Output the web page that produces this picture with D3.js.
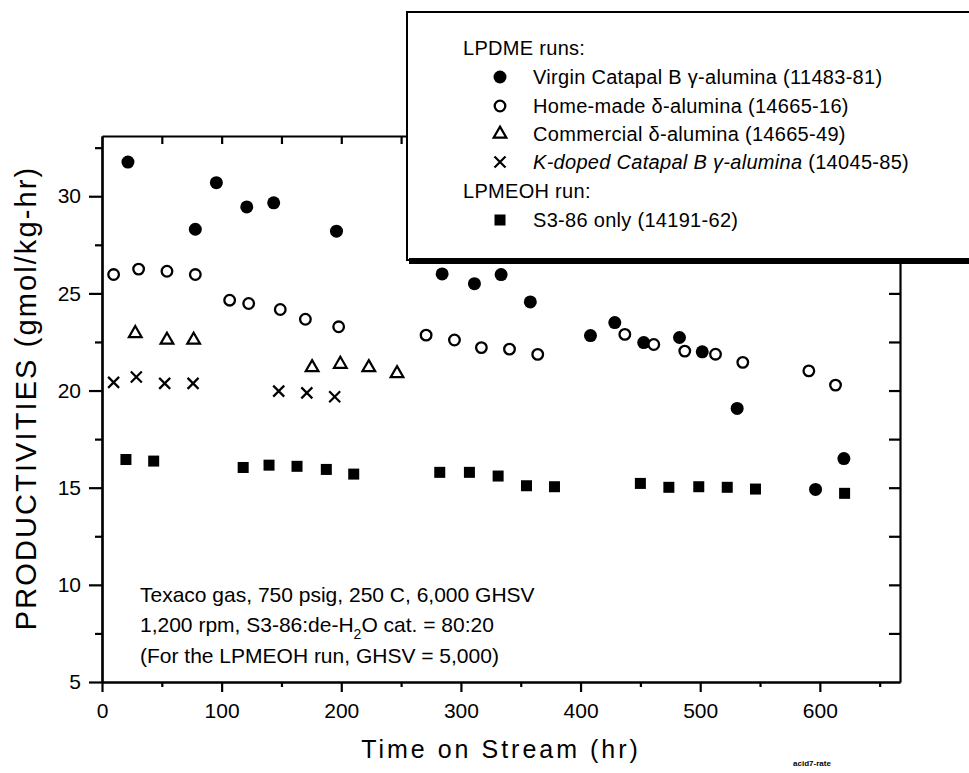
<!DOCTYPE html>
<html>
<head>
<meta charset="utf-8">
<script src="https://cdn.jsdelivr.net/npm/d3@7"></script>
<style>
    body { margin: 0; background: #fff; }
    svg { font-family: "Liberation Sans", Arial, sans-serif; }
    .axis path, .axis line { stroke: #000; stroke-width: 2.2px; }
    .axis text { fill: #000; font-family: "Liberation Sans", Arial, sans-serif; }
</style>
</head>
<body>
<div id="chart"></div>
<script>

// data (hr, gmol/kg-hr)
const virginX = [21.7, 78, 95.6, 121, 143.5, 196, 284.3, 311.3, 333.6, 358, 408.3, 428.6, 452.8, 482.7, 501.7, 530.9, 596.4, 620.1];
const virginY = [31.76, 28.3, 30.7, 29.45, 29.66, 28.2, 26.0, 25.5, 25.97, 24.56, 22.83, 23.5, 22.47, 22.73, 21.99, 19.08, 14.91, 16.5];

const homeMadeX = [9.7, 30.6, 54.3, 78, 106.7, 122.6, 149, 170, 197.8, 270.9, 294.6, 317.1, 340.6, 364.2, 437, 461.2, 487.1, 512.8, 535.6, 590.8, 613.1];
const homeMadeY = [25.97, 26.25, 26.14, 25.97, 24.65, 24.48, 24.17, 23.67, 23.28, 22.85, 22.6, 22.21, 22.13, 21.86, 22.89, 22.37, 22.03, 21.87, 21.45, 21.01, 20.28];

const commercialX = [27.8, 54.3, 76.6, 175.6, 199.2, 223, 246.6];
const commercialY = [22.94, 22.6, 22.6, 21.19, 21.36, 21.19, 20.88];

const kDopedX = [9.7, 28.7, 52.4, 76.1, 147.7, 171.2, 194.5];
const kDopedY = [20.42, 20.7, 20.37, 20.37, 19.97, 19.88, 19.68];

const s386X = [20, 43.2, 118, 139.6, 163, 187.5, 210.4, 282.3, 307.1, 331.1, 354.8, 378.2, 450, 473.8, 498.8, 522.6, 546.2, 620.7];
const s386Y = [16.45, 16.37, 16.04, 16.16, 16.1, 15.94, 15.7, 15.79, 15.79, 15.6, 15.1, 15.05, 15.22, 15.02, 15.05, 15.02, 14.93, 14.71];

// tick labels
const xTicks = [0, 100, 200, 300, 400, 500, 600];
const yTicks = [5, 10, 15, 20, 25, 30];

const legendLabels = [
    "Virgin Catapal B γ-alumina (11483-81)",
    "Home-made δ-alumina (14665-16)",
    "Commercial δ-alumina (14665-49)",
    "K-doped Catapal B γ-alumina",
    "S3-86 only (14191-62)"
];

let width = 969, height = 773;

let svg = d3.select("#chart").append("svg")
    .attr("width", width)
    .attr("height", height);

svg.append("rect").attr("width", width).attr("height", height).attr("fill", "#fff");

// scales
let x = d3.scaleLinear().domain([0, 667]).range([102, 900]);
let y = d3.scaleLinear().domain([5, 33.1]).range([682, 136]);

// axes - bottom & left outward, top & right inward
svg.append("g").attr("class", "axis")
    .attr("transform", `translate(0,${y(5)})`)
    .call(d3.axisBottom(x).tickValues(d3.range(50, 667, 100)).tickSize(5).tickSizeOuter(0).tickFormat(""));
svg.append("g").attr("class", "axis")
    .attr("transform", `translate(0,${y(5)})`)
    .call(d3.axisBottom(x).tickValues(xTicks).tickSize(10).tickSizeOuter(0).tickPadding(11));

svg.append("g").attr("class", "axis")
    .attr("transform", `translate(${x(0)},0)`)
    .call(d3.axisLeft(y).tickValues(d3.range(7.5, 33, 5)).tickSize(7).tickSizeOuter(0).tickFormat(""));
svg.append("g").attr("class", "axis")
    .attr("transform", `translate(${x(0)},0)`)
    .call(d3.axisLeft(y).tickValues(yTicks).tickSize(13).tickSizeOuter(0).tickPadding(8));

svg.append("g").attr("class", "axis")
    .attr("transform", `translate(0,${y(33.1)})`)
    .call(d3.axisTop(x).tickValues(d3.range(50, 667, 50)).tickSize(-8).tickSizeOuter(0).tickFormat(""));

svg.append("g").attr("class", "axis")
    .attr("transform", `translate(${x(667)},0)`)
    .call(d3.axisRight(y).tickValues(d3.range(7.5, 33, 2.5)).tickSize(-11).tickSizeOuter(0).tickFormat(""));

svg.selectAll(".axis text").attr("font-size", 21);

// markers
let zip = (xs, ys) => xs.map((d, i) => ({x: d, y: ys[i]}));

let tri = d3.symbol().type(d3.symbolTriangle).size(70);
let cross = "M-5.5,-5.5L5.5,5.5M-5.5,5.5L5.5,-5.5";

svg.append("g").selectAll("circle")
    .data(zip(virginX, virginY))
    .enter().append("circle")
    .attr("cx", d => x(d.x)).attr("cy", d => y(d.y))
    .attr("r", 6.5).attr("fill", "#000");

svg.append("g").selectAll("circle")
    .data(zip(homeMadeX, homeMadeY))
    .enter().append("circle")
    .attr("cx", d => x(d.x)).attr("cy", d => y(d.y))
    .attr("r", 5.3).attr("fill", "#fff").attr("stroke", "#000").attr("stroke-width", 2.3);

svg.append("g").selectAll("path")
    .data(zip(commercialX, commercialY))
    .enter().append("path")
    .attr("transform", d => `translate(${x(d.x)},${y(d.y)})`)
    .attr("d", tri).attr("fill", "none").attr("stroke", "#000").attr("stroke-width", 2.2);

svg.append("g").selectAll("path")
    .data(zip(kDopedX, kDopedY))
    .enter().append("path")
    .attr("transform", d => `translate(${x(d.x)},${y(d.y)})`)
    .attr("d", cross).attr("fill", "none").attr("stroke", "#000").attr("stroke-width", 2.2);

svg.append("g").selectAll("rect")
    .data(zip(s386X, s386Y))
    .enter().append("rect")
    .attr("x", d => x(d.x) - 5.5).attr("y", d => y(d.y) - 5.5)
    .attr("width", 11).attr("height", 11).attr("fill", "#000");

// axis titles
svg.append("text")
    .attr("transform", "translate(36,398) rotate(-90)")
    .attr("text-anchor", "middle")
    .attr("font-size", 29)
    .attr("letter-spacing", 2.1)
    .text("PRODUCTIVITIES (gmol/kg-hr)");

svg.append("text")
    .attr("x", 501).attr("y", 758)
    .attr("text-anchor", "middle")
    .attr("font-size", 25)
    .attr("letter-spacing", 3)
    .text("Time on Stream (hr)");

// conditions note
let note = svg.append("g").attr("font-size", 21);
note.append("text").attr("x", 140).attr("y", 602)
    .text("Texaco gas, 750 psig, 250 C, 6,000 GHSV");
let l2 = note.append("text").attr("x", 140).attr("y", 632);
l2.append("tspan").text("1,200 rpm, S3-86:de-H");
l2.append("tspan").attr("dy", 7).attr("font-size", 14).text("2");
l2.append("tspan").attr("dy", -7).text("O cat. = 80:20");
note.append("text").attr("x", 140).attr("y", 663)
    .text("(For the LPMEOH run, GHSV = 5,000)");

// legend box
let legend = svg.append("g");
legend.append("rect")
    .attr("x", 407).attr("y", 12).attr("width", 600).attr("height", 248)
    .attr("fill", "#fff").attr("stroke", "#000").attr("stroke-width", 2);
legend.append("rect")
    .attr("x", 409).attr("y", 258).attr("width", 600).attr("height", 6)
    .attr("fill", "#000");

let rowY = [77, 106, 134, 162, 220];
let mx = 500, tx = 533;

legend.append("text").attr("x", 463).attr("y", 55).attr("font-size", 20).attr("letter-spacing", 0.3).text("LPDME runs:");
legend.append("text").attr("x", 463).attr("y", 198).attr("font-size", 20).attr("letter-spacing", 0.3).text("LPMEOH run:");

legend.append("circle").attr("cx", mx).attr("cy", rowY[0]).attr("r", 6.5).attr("fill", "#000");
legend.append("circle").attr("cx", mx).attr("cy", rowY[1]).attr("r", 5.3)
    .attr("fill", "#fff").attr("stroke", "#000").attr("stroke-width", 2.3);
legend.append("path").attr("transform", `translate(${mx},${rowY[2]})`).attr("d", tri)
    .attr("fill", "none").attr("stroke", "#000").attr("stroke-width", 2.2);
legend.append("path").attr("transform", `translate(${mx},${rowY[3]})`).attr("d", cross)
    .attr("fill", "none").attr("stroke", "#000").attr("stroke-width", 2.2);
legend.append("rect").attr("x", mx - 5.5).attr("y", rowY[4] - 5.5).attr("width", 11).attr("height", 11).attr("fill", "#000");

legendLabels.forEach((lab, i) => {
    let t = legend.append("text")
        .attr("x", tx).attr("y", rowY[i] + 7)
        .attr("font-size", 20).attr("letter-spacing", 0.3);
    if (i === 3) {
        t.append("tspan").attr("font-style", "italic").text(lab);
        t.append("tspan").text(" (14045-85)");
    } else {
        t.text(lab);
    }
});

// file tag
svg.append("text")
    .attr("x", 812).attr("y", 766)
    .attr("text-anchor", "middle")
    .attr("font-size", 8).attr("font-weight", "bold")
    .text("acid7-rate");

</script>
</body>
</html>
